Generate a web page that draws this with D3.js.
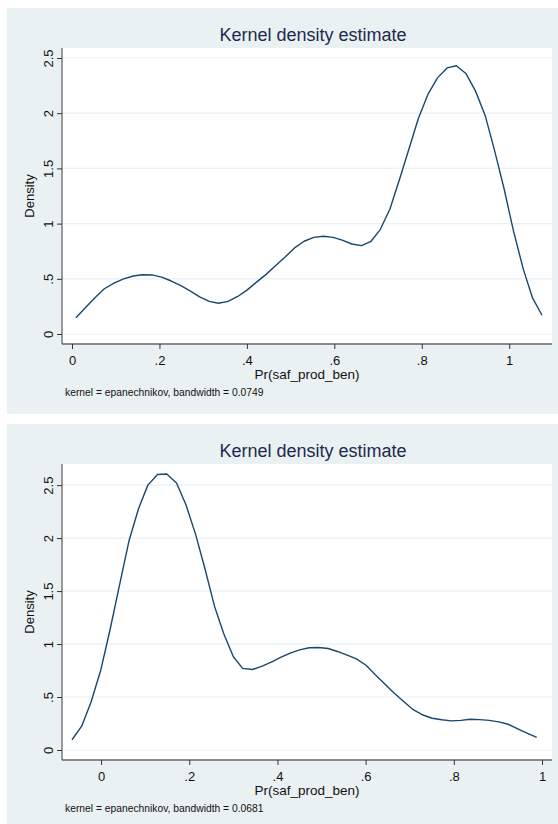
<!DOCTYPE html>
<html><head><meta charset="utf-8">
<script src="https://cdn.jsdelivr.net/npm/d3@7"></script>
<style>body{margin:0;background:#fff}svg{display:block}text{font-family:"Liberation Sans",Arial,sans-serif}</style>
</head><body><svg id="c" width="558" height="824"></svg>
<script>
// Panel 1 (bandwidth 0.0749)
const x1 = [0.009,0.031,0.053,0.074,0.096,0.118,0.140,0.161,0.183,0.205,0.227,0.248,0.270,0.292,0.314,0.335,0.357,0.379,0.401,0.422,0.444,0.466,0.488,0.509,0.531,0.553,0.575,0.597,0.618,0.640,0.662,0.684,0.705,0.727,0.749,0.771,0.792,0.814,0.836,0.858,0.879,0.901,0.923,0.945,0.966,0.988,1.010,1.032,1.053,1.075];
const y1 = [0.147,0.24,0.33,0.41,0.46,0.50,0.525,0.537,0.535,0.515,0.48,0.44,0.39,0.336,0.295,0.279,0.295,0.34,0.40,0.47,0.54,0.62,0.70,0.78,0.84,0.875,0.885,0.875,0.85,0.815,0.80,0.84,0.946,1.13,1.40,1.68,1.95,2.17,2.32,2.41,2.43,2.36,2.20,1.98,1.67,1.32,0.93,0.59,0.33,0.17];
// Panel 2 (bandwidth 0.0681)
const x2 = [-0.066,-0.044,-0.023,-0.001,0.020,0.042,0.063,0.085,0.106,0.128,0.149,0.171,0.192,0.214,0.235,0.257,0.278,0.300,0.321,0.343,0.364,0.386,0.407,0.429,0.450,0.472,0.493,0.515,0.536,0.558,0.579,0.601,0.622,0.644,0.665,0.687,0.708,0.730,0.751,0.773,0.794,0.816,0.837,0.859,0.880,0.902,0.923,0.945,0.966,0.988];
const y2 = [0.097,0.225,0.45,0.75,1.13,1.56,1.97,2.28,2.50,2.60,2.605,2.52,2.32,2.04,1.72,1.36,1.10,0.88,0.77,0.76,0.79,0.83,0.875,0.915,0.945,0.965,0.968,0.958,0.93,0.895,0.86,0.80,0.71,0.62,0.535,0.455,0.38,0.33,0.30,0.285,0.275,0.28,0.29,0.287,0.28,0.265,0.243,0.20,0.16,0.119];

const xTicks = [0,0.2,0.4,0.6,0.8,1];
const xTickLabels = ["0",".2",".4",".6",".8","1"];
const yTicks = [0,0.5,1,1.5,2,2.5];
const yTickLabels = ["0",".5","1","1.5","2","2.5"];
const titleText = "Kernel density estimate";
const xTitle = "Pr(saf_prod_ben)";
const yTitle = "Density";
const notes = ["kernel = epanechnikov, bandwidth = 0.0749","kernel = epanechnikov, bandwidth = 0.0681"];

const svg = d3.select("#c");
const BG = "#eaf1f3", GRID = "#eaf2f3", LINE = "#1a476f", AXIS = "#666666";

function panel(top, xs, ys, note){
  const g = svg.append("g").attr("transform", `translate(0,${top})`);
  g.append("rect").attr("x",7).attr("y",0).attr("width",551).attr("height",406).attr("fill",BG);
  const L=62, R=552, T=40, B=336, pad=10;
  g.append("rect").attr("x",L).attr("y",T).attr("width",R-L).attr("height",B-T).attr("fill","#fff");
  const xd = [Math.min(d3.min(xs), xTicks[0]), Math.max(d3.max(xs), xTicks[xTicks.length-1])];
  const yd = [0, Math.max(d3.max(ys), yTicks[yTicks.length-1])];
  const x = d3.scaleLinear().domain(xd).range([L+pad, R-pad]);
  const y = d3.scaleLinear().domain(yd).range([B-pad, T+pad]);
  // grid
  g.append("g").selectAll("line").data(yTicks).join("line")
    .attr("x1",L).attr("x2",R).attr("y1",d=>y(d)).attr("y2",d=>y(d))
    .attr("stroke",GRID).attr("stroke-width",1.2);
  // curve
  const pts = xs.map((v,i)=>[v, ys[i]]);
  g.append("path").datum(pts).attr("fill","none").attr("stroke",LINE).attr("stroke-width",1.4)
    .attr("stroke-linejoin","round")
    .attr("d", d3.line().x(d=>x(d[0])).y(d=>y(d[1])));
  // axes
  const ya = g.append("g").attr("transform",`translate(${L},0)`)
    .call(d3.axisLeft(y).tickValues(yTicks).tickSize(5).tickFormat((d,i)=>yTickLabels[i]));
  ya.select(".domain").attr("d",`M0,${T}V${B}`).attr("stroke",AXIS).attr("stroke-width",1.3);
  ya.selectAll(".tick line").attr("stroke","#333");
  ya.selectAll(".tick text").attr("transform","rotate(-90)").attr("x",0).attr("y",-9)
    .attr("dy","0").attr("text-anchor","middle").attr("font-size","13px").attr("fill","#111");
  const xa = g.append("g").attr("transform",`translate(0,${B})`)
    .call(d3.axisBottom(x).tickValues(xTicks).tickSize(5).tickFormat((d,i)=>xTickLabels[i]));
  xa.select(".domain").attr("d",`M${L},0H${R}`).attr("stroke",AXIS).attr("stroke-width",1.3);
  xa.selectAll(".tick line").attr("stroke","#333");
  xa.selectAll(".tick text").attr("y",21).attr("dy","0").attr("font-size","13px").attr("fill","#111");
  // titles
  g.append("text").attr("x",313).attr("y",33).attr("text-anchor","middle")
    .attr("font-size","18px").attr("fill","#1c2a4e").text(titleText);
  g.append("text").attr("x",(L+R)/2).attr("y",371).attr("text-anchor","middle")
    .attr("font-size","13.5px").attr("fill","#111").text(xTitle);
  g.append("text").attr("transform",`translate(34,${(T+B)/2}) rotate(-90)`).attr("text-anchor","middle")
    .attr("font-size","13px").attr("fill","#111").text(yTitle);
  g.append("text").attr("x",65).attr("y",388).attr("font-size","10.3px").attr("fill","#111").text(note);
}
panel(8, x1, y1, notes[0]);
panel(424, x2, y2, notes[1]);
</script></body></html>
